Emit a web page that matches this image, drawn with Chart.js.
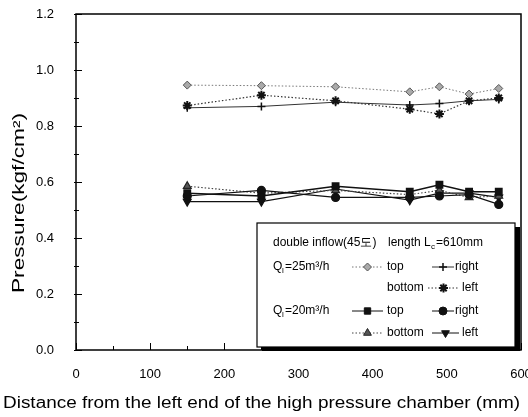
<!DOCTYPE html>
<html>
<head>
<meta charset="utf-8">
<script src="https://cdn.jsdelivr.net/npm/chart.js@4"></script>
<style>
  html, body { margin: 0; padding: 0; background: #fff; }
  #wrap { width: 528px; height: 417px; }
</style>
</head>
<body>
<div id="wrap"><canvas id="pressureChart" width="528" height="417"></canvas></div>
<script>
// measuring positions along the chamber (mm)
var distance = [150, 250, 350, 450, 490, 530, 570];

// Q=25 m3/h
var q25Top   = [0.946, 0.944, 0.940, 0.922, 0.940, 0.914, 0.934];
var q25Right = [0.865, 0.870, 0.885, 0.875, 0.880, 0.890, 0.895];
var q25Left  = [0.873, 0.910, 0.890, 0.860, 0.843, 0.890, 0.900];

// Q=20 m3/h
var q20Top    = [0.560, 0.550, 0.585, 0.565, 0.590, 0.565, 0.565];
var q20Right  = [0.550, 0.570, 0.545, 0.545, 0.550, 0.555, 0.520];
var q20Bottom = [0.585, 0.560, 0.570, 0.555, 0.570, 0.545, 0.550];
var q20Left   = [0.530, 0.530, 0.575, 0.535, 0.560, 0.560, 0.545];

var yTicks = [0.0, 0.2, 0.4, 0.6, 0.8, 1.0, 1.2];
var xTicks = [0, 100, 200, 300, 400, 500, 600];

function pts(vals) {
  return distance.map(function(d, i) { return {x: d, y: vals[i]}; });
}

var FONT = '"Liberation Sans", Arial, sans-serif';
var dotted = [1.5, 2];

var datasets = [
  {label: 'Q25 top', data: pts(q25Top), borderColor: '#777', borderWidth: 1, borderDash: dotted,
   pointStyle: 'rectRot', radius: 4, backgroundColor: '#aaa', pointBorderColor: '#555', pointBorderWidth: 1},
  {label: 'Q25 right', data: pts(q25Right), borderColor: '#333', borderWidth: 1,
   pointStyle: 'cross', radius: 4, backgroundColor: '#111', pointBorderColor: '#111', pointBorderWidth: 1.5},
  {label: 'Q25 left', data: pts(q25Left), borderColor: '#333', borderWidth: 1.2, borderDash: dotted,
   pointStyle: 'star', radius: 4.5, backgroundColor: '#111', pointBorderColor: '#111', pointBorderWidth: 2},
  {label: 'Q20 top', data: pts(q20Top), borderColor: '#111', borderWidth: 1.5,
   pointStyle: 'rect', radius: 4.5, backgroundColor: '#111', pointBorderColor: '#111'},
  {label: 'Q20 right', data: pts(q20Right), borderColor: '#111', borderWidth: 1.2,
   pointStyle: 'circle', radius: 4, backgroundColor: '#111', pointBorderColor: '#111'},
  {label: 'Q20 bottom', data: pts(q20Bottom), borderColor: '#444', borderWidth: 1.2, borderDash: dotted,
   pointStyle: 'triangle', radius: 4.5, backgroundColor: '#555', pointBorderColor: '#222'},
  {label: 'Q20 left', data: pts(q20Left), borderColor: '#111', borderWidth: 1.2,
   pointStyle: 'triangle', rotation: 180, radius: 4.5, backgroundColor: '#111', pointBorderColor: '#111'}
];

function marker(ctx, ds, x, y) {
  ctx.save();
  ctx.fillStyle = ds.backgroundColor;
  ctx.strokeStyle = ds.pointBorderColor;
  ctx.lineWidth = ds.pointBorderWidth || 1;
  ctx.setLineDash([]);
  Chart.helpers.drawPoint(ctx, {pointStyle: ds.pointStyle, rotation: ds.rotation || 0,
    radius: ds.radius, borderWidth: ds.pointBorderWidth || 1}, x, y);
  ctx.restore();
}

function legendItem(ctx, ds, x1, x2, y) {
  ctx.save();
  ctx.strokeStyle = ds.borderColor;
  ctx.lineWidth = 1;
  ctx.setLineDash(ds.borderDash || []);
  ctx.beginPath();
  ctx.moveTo(x1, y); ctx.lineTo(x2, y);
  ctx.stroke();
  ctx.restore();
  marker(ctx, ds, (x1 + x2) / 2, y);
}

// text squeezed/stretched to a given width
function fitText(ctx, str, x, y, width) {
  var w = ctx.measureText(str).width;
  ctx.save();
  ctx.translate(x, y);
  ctx.scale(width / w, 1);
  ctx.fillText(str, 0, 0);
  ctx.restore();
}

var decorations = {
  id: 'decorations',
  afterDraw: function(chart) {
    var ctx = chart.ctx, a = chart.chartArea;
    var xs = chart.scales.x, ys = chart.scales.y;
    ctx.save();

    // inward ticks
    ctx.strokeStyle = '#000';
    ctx.lineWidth = 1;
    for (var v = 0; v <= 600; v += 50) {
      var px = Math.round(xs.getPixelForValue(v)) + 0.5;
      var len = v % 100 === 0 ? 7 : 4;
      ctx.beginPath(); ctx.moveTo(px, a.bottom); ctx.lineTo(px, a.bottom - len); ctx.stroke();
    }
    for (var k = 0; k <= 12; k++) {
      var py = Math.round(ys.getPixelForValue(k / 10)) + 0.5;
      var l2 = k % 2 === 0 ? 6 : 3;
      ctx.beginPath(); ctx.moveTo(a.left - 2, py); ctx.lineTo(a.left + l2, py); ctx.stroke();
    }

    // frame
    ctx.lineWidth = 1.5;
    ctx.strokeRect(a.left, a.top, a.right - a.left, a.bottom - a.top);

    // legend box with shadow
    var bx = 257, by = 223, bw = 258, bh = 124;
    ctx.fillStyle = '#000';
    ctx.fillRect(bx + 5, by + 4, bw, bh);
    ctx.fillStyle = '#fff';
    ctx.fillRect(bx, by, bw, bh);
    ctx.lineWidth = 1.2;
    ctx.strokeRect(bx, by, bw, bh);

    ctx.fillStyle = '#000';
    ctx.textBaseline = 'middle';
    ctx.textAlign = 'left';
    ctx.font = '12px ' + FONT;
    ctx.fillText('double inflow(45\uB3C4)', 273, 243);
    ctx.fillText('length L', 388, 243);
    ctx.font = '8px ' + FONT;
    ctx.fillText('c', 431, 247);
    ctx.font = '12px ' + FONT;
    ctx.fillText('=610mm', 436, 243);

    function qLabel(q, y) {
      ctx.font = '12px ' + FONT;
      ctx.fillText('Q', 273, y);
      ctx.font = '8px ' + FONT;
      ctx.fillText('l', 282, y + 4);
      ctx.font = '12px ' + FONT;
      ctx.fillText('=' + q + 'm\u00B3/h', 285, y);
    }
    qLabel(25, 267);
    qLabel(20, 311);

    ctx.font = '12px ' + FONT;
    legendItem(ctx, datasets[0], 352, 383, 267); ctx.fillText('top', 387, 267);
    legendItem(ctx, datasets[1], 432, 454, 267); ctx.fillText('right', 455, 267);
    ctx.fillText('bottom', 387, 288);
    legendItem(ctx, datasets[2], 428, 459, 288); ctx.fillText('left', 462, 288);
    legendItem(ctx, datasets[3], 352, 383, 311); ctx.fillText('top', 387, 311);
    legendItem(ctx, datasets[4], 432, 454, 311); ctx.fillText('right', 455, 311);
    legendItem(ctx, datasets[5], 352, 383, 333); ctx.fillText('bottom', 387, 333);
    legendItem(ctx, datasets[6], 432, 459, 333); ctx.fillText('left', 462, 333);

    // axis titles
    ctx.font = '16px ' + FONT;
    ctx.textAlign = 'left';
    fitText(ctx, 'Distance from the left end of the high pressure chamber (mm)', 3, 404, 517);
    ctx.translate(20, 293);
    ctx.rotate(-Math.PI / 2);
    ctx.font = '16px ' + FONT;
    fitText(ctx, 'Pressure(kgf/cm\u00B2)', 0, 0, 180);
    ctx.restore();
  }
};

new Chart(document.getElementById('pressureChart').getContext('2d'), {
  type: 'line',
  data: {datasets: datasets},
  options: {
    responsive: false,
    animation: false,
    layout: {padding: {top: 14, right: 7, left: 0, bottom: 0}},
    plugins: {legend: {display: false}, tooltip: {enabled: false}},
    elements: {line: {tension: 0, fill: false}},
    scales: {
      x: {
        type: 'linear', min: 0, max: 600,
        afterBuildTicks: function(s) { s.ticks = xTicks.map(function(v) { return {value: v}; }); },
        afterFit: function(s) { s.height = 67; s.paddingLeft = 0; s.paddingRight = 0; },
        grid: {display: false, drawTicks: false},
        border: {display: false},
        ticks: {color: '#000', padding: 17, font: {size: 13, family: FONT}, maxRotation: 0}
      },
      y: {
        min: 0, max: 1.2,
        afterBuildTicks: function(s) { s.ticks = yTicks.map(function(v) { return {value: v}; }); },
        afterFit: function(s) { s.width = 76; s.paddingTop = 0; s.paddingBottom = 0; },
        grid: {display: false, drawTicks: false},
        border: {display: false},
        ticks: {color: '#000', padding: 22, font: {size: 13, family: FONT},
          callback: function(v) { return Number(v).toFixed(1); }}
      }
    }
  },
  plugins: [decorations]
});
</script>
</body>
</html>
